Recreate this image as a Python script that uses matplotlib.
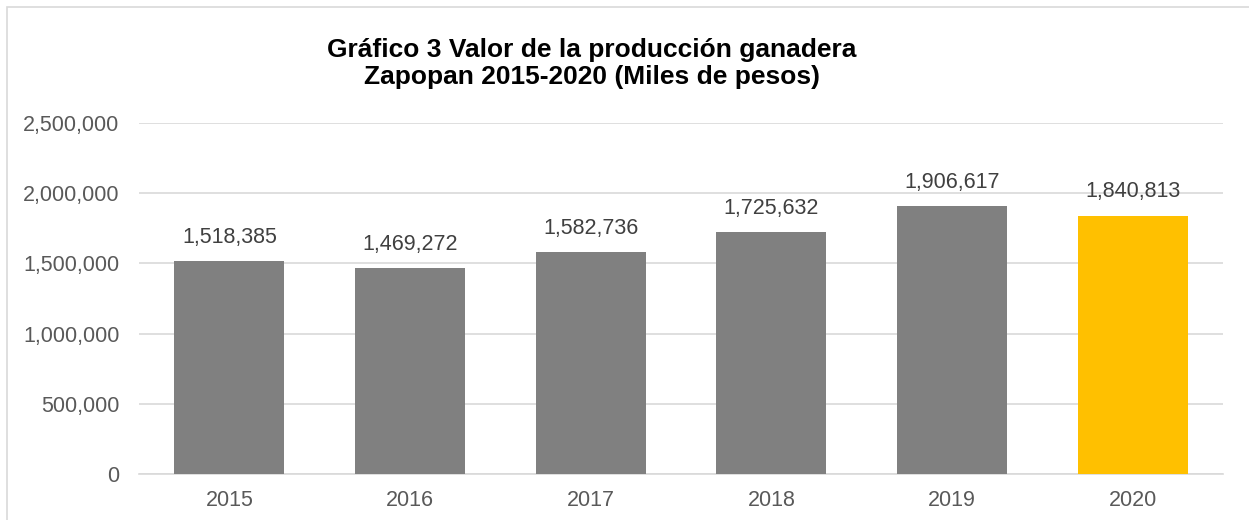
import matplotlib
matplotlib.use("Agg")
import matplotlib.pyplot as plt
from matplotlib.patches import Rectangle
from matplotlib.ticker import FuncFormatter, MultipleLocator

years = ["2015", "2016", "2017", "2018", "2019", "2020"]
values = [1518385, 1469272, 1582736, 1725632, 1906617, 1840813]
colors = ["#808080", "#808080", "#808080", "#808080", "#808080", "#FFC000"]
title_lines = ["Gráfico 3 Valor de la producción ganadera",
               "Zapopan 2015-2020 (Miles de pesos)"]

plt.rcParams['font.family'] = ['Liberation Sans', 'DejaVu Sans']

W, H = 1249, 520
fig = plt.figure(figsize=(W / 100, H / 100), dpi=100)

# outer chart border
fig.patches.append(Rectangle((7 / W, -0.05), 1.2, (H - 7) / H + 0.05, transform=fig.transFigure,
                             fill=False, edgecolor="#D9D9D9", linewidth=1.2))

ax = fig.add_axes([139 / W, 46 / H, (1223 - 139) / W, (474 - 123) / H])
x = list(range(len(years)))
bars = ax.bar(x, values, width=0.61, color=colors, zorder=3)
ax.set_xlim(-0.5, len(years) - 0.5)
ax.set_ylim(0, 2500000)
ax.yaxis.set_major_locator(MultipleLocator(500000))
ax.yaxis.set_major_formatter(FuncFormatter(lambda v, p: f"{int(v):,}"))
ax.set_xticks(x)
ax.set_xticklabels(years)
ax.grid(axis="y", color="#D9D9D9", linewidth=1.2, zorder=0)
for s in ["top", "right", "left"]:
    ax.spines[s].set_visible(False)
ax.spines["bottom"].set_color("#D9D9D9")
ax.spines["bottom"].set_linewidth(1.2)
ax.tick_params(axis="both", length=0, labelsize=15.5, labelcolor="#595959")
ax.tick_params(axis="y", pad=14)
ax.tick_params(axis="x", pad=11.5)

for xi, v in zip(x, values):
    ax.annotate(f"{v:,}", (xi, v), xytext=(0, 13), textcoords="offset points",
                ha="center", va="baseline", fontsize=15.5, color="#404040")

for i, (line, base) in enumerate(zip(title_lines, [56.5, 84])):
    fig.text(591.5 / W, 1 - base / H, line, ha="center", va="baseline", fontsize=19,
             fontweight="bold", color="#000000")

fig.savefig("out.png", dpi=100)
